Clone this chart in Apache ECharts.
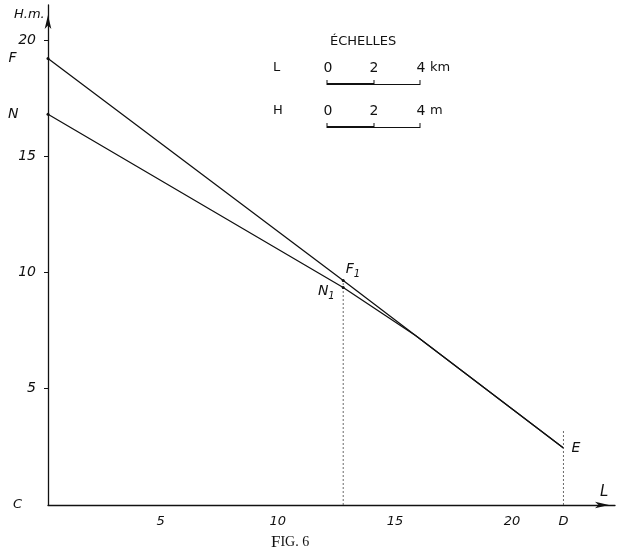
<!DOCTYPE html>
<html>
<head>
<meta charset="utf-8">
<script src="https://cdn.jsdelivr.net/npm/echarts@6/dist/echarts.min.js"></script>
<style>
html, body { margin: 0; padding: 0; background: #fff; }
#main { width: 619px; height: 556px; }
</style>
</head>
<body>
<div id="main"></div>
<script>
// ligne F -> F1 -> E
var fX = [0, 12.6, 22];
var fH = [19.2, 9.65, 2.45];
var fNames = ['F', 'F1', ''];
// ligne N -> N1 -> E
var nX = [0, 12.6, 15.7, 22];
var nH = [16.8, 9.35, 7.28, 2.45];
var nNames = ['N', 'N1', '', 'E'];
// verticales pointillées
var guideX = [12.6, 22];
var guideTop = [9.65, 3.2];
// graduations
var xTicks = [5, 10, 15, 20, 22];
var xTickText = ['5', '10', '15', '20', 'D'];
var yTicks = [0, 5, 10, 15, 20];
var yTickText = ['C', '5', '10', '15', '20'];
var scaleTicks = ['0', '2', '4'];

var ink = '#111';
var italic = { fontStyle: 'italic', fontFamily: 'DejaVu Sans', color: ink };

var labelStyle = {
  F:  { position: 'left', distance: 30 },
  N:  { position: 'left', distance: 28 },
  F1: { position: 'right', distance: 1, offset: [0, -11] },
  N1: { position: 'left', distance: 7, offset: [0, 4] },
  E:  { position: 'right', distance: 8 }
};

function pointData(xs, hs, names) {
  return xs.map(function (x, i) {
    var nm = names[i];
    if (!nm) return { value: [x, hs[i]], symbolSize: 0 };
    var txt = nm.length > 1 ? '{a|' + nm[0] + '}{s|' + nm.slice(1) + '}' : '{a|' + nm + '}';
    return {
      value: [x, hs[i]],
      symbolSize: nm === 'E' ? 0 : 3,
      label: Object.assign({ show: true, formatter: txt }, labelStyle[nm])
    };
  });
}

var rich = {
  a: { fontSize: 14, fontStyle: 'italic', fontFamily: 'DejaVu Sans', color: ink },
  s: { fontSize: 10, fontStyle: 'italic', fontFamily: 'DejaVu Sans', color: ink, padding: [10, 0, 0, 0] }
};

var guideSeries = guideX.map(function (x, i) {
  return {
    type: 'line', symbol: 'none', silent: true,
    data: [[x, 0], [x, guideTop[i]]],
    lineStyle: { color: '#444', width: 0.8, type: [2, 2] }
  };
});

function scaleRow(y, name, unit) {
  var xs = [328, 374, 421];
  var els = [
    { type: 'text', left: 273, top: y - 7, style: { text: name, font: '13px DejaVu Sans', fill: ink } }
  ];
  scaleTicks.forEach(function (t, i) {
    els.push({ type: 'text', x: xs[i], y: y, style: { text: t, font: '14px DejaVu Sans', fill: ink, align: 'center', verticalAlign: 'middle' } });
  });
  els.push({ type: 'text', x: 430, y: y, style: { text: unit, font: '13px DejaVu Sans', fill: ink, verticalAlign: 'middle' } });
  var by = y + 16;
  els.push({ type: 'line', shape: { x1: 327, y1: by, x2: 374, y2: by }, style: { stroke: ink, lineWidth: 2.2 } });
  els.push({ type: 'line', shape: { x1: 374, y1: by + 0.5, x2: 420, y2: by + 0.5 }, style: { stroke: ink, lineWidth: 1 } });
  [327, 374, 420].forEach(function (x) {
    els.push({ type: 'line', shape: { x1: x, y1: by - 4, x2: x, y2: by + 1 }, style: { stroke: ink, lineWidth: 1 } });
  });
  return els;
}

var chart = echarts.init(document.getElementById('main'));
chart.setOption({
  animation: false,
  backgroundColor: '#fff',
  grid: { left: 48, right: 4, top: 5, bottom: 51 },
  xAxis: {
    type: 'value', min: 0, max: 24.2,
    splitLine: { show: false },
    axisLine: { lineStyle: { color: ink, width: 1.3 }, symbol: ['none', 'arrow'], symbolSize: [5, 14], symbolOffset: [0, -6] },
    axisTick: { show: false },
    axisLabel: Object.assign({
      customValues: xTicks, fontSize: 13, margin: 10,
      formatter: function (v) {
        var t = xTickText[xTicks.indexOf(v)];
        return v === 22 ? t : '{p|' + t + '}';
      },
      rich: { p: { fontSize: 13, fontStyle: 'italic', fontFamily: 'DejaVu Sans', color: ink, padding: [0, 9, 0, 0] } }
    }, italic)
  },
  yAxis: {
    type: 'value', min: 0, max: 21.5,
    splitLine: { show: false },
    axisLine: { lineStyle: { color: ink, width: 1.3 }, symbol: ['none', 'arrow'], symbolSize: [5, 14], symbolOffset: [0, -10] },
    axisTick: { show: true, customValues: [5, 10, 15, 20], length: 4, lineStyle: { color: ink } },
    axisLabel: Object.assign({
      customValues: yTicks, fontSize: 14, margin: 12,
      formatter: function (v) {
        var t = yTickText[yTicks.indexOf(v)];
        return v === 0 ? '{c|' + t + '}' : t;
      },
      rich: { c: { fontSize: 13, fontStyle: 'italic', fontFamily: 'DejaVu Sans', color: ink, padding: [0, 14, 0, 0] } }
    }, italic)
  },
  series: [
    {
      type: 'line', symbol: 'circle', itemStyle: { color: ink },
      lineStyle: { color: ink, width: 1.3 },
      data: pointData(fX, fH, fNames),
      label: { rich: rich }
    },
    {
      type: 'line', symbol: 'circle', itemStyle: { color: ink },
      lineStyle: { color: ink, width: 1.3 },
      data: pointData(nX, nH, nNames),
      label: { rich: rich }
    }
  ].concat(guideSeries),
  graphic: [
    { type: 'text', left: 14, top: 8, style: { text: 'H.m.', font: 'italic 13px DejaVu Sans', fill: ink } },
    { type: 'text', left: 600, top: 485, style: { text: 'L', font: 'italic 15px DejaVu Sans', fill: ink } },
    { type: 'text', left: 330, top: 35, style: { text: 'ÉCHELLES', font: '13px DejaVu Sans', fill: ink } },
    {
      type: 'text', left: 271, top: 534,
      style: {
        text: '{b|F}{m|IG. 6}',
        rich: {
          b: { font: '17px Liberation Serif', fill: ink },
          m: { font: '14px Liberation Serif', fill: ink }
        }
      }
    }
  ].concat(scaleRow(68, 'L', 'km')).concat(scaleRow(111, 'H', 'm'))
});
</script>
</body>
</html>
